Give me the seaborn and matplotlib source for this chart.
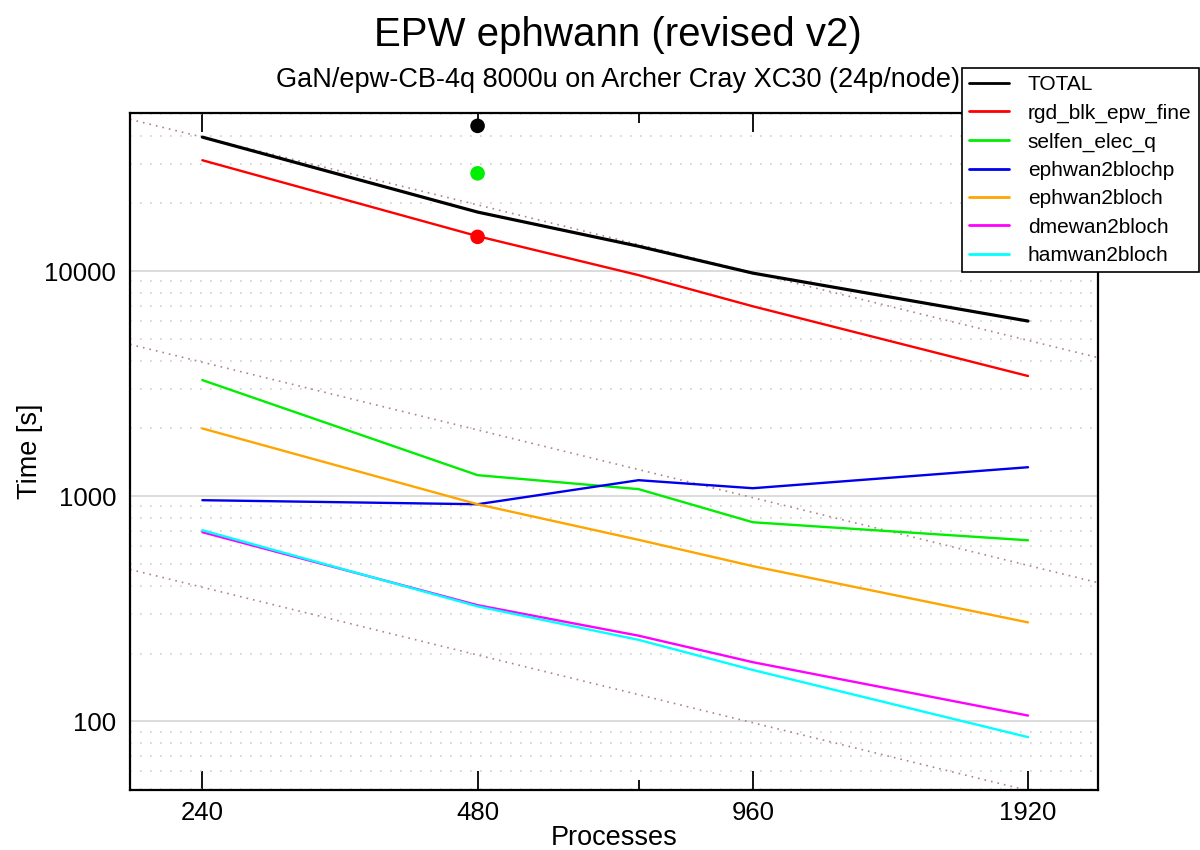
import pandas as pd
import matplotlib
matplotlib.use('Agg')
import matplotlib.pyplot as plt
import seaborn as sns
from matplotlib.ticker import FixedLocator, NullFormatter, LogLocator

#Data
procs = [240, 480, 720, 960, 1920]
total = [39400, 18300, 12900, 9800, 6000]
rgd_blk_epw_fine = [31100, 14300, 9600, 6980, 3420]
selfen_elec_q = [3280, 1240, 1075, 766, 637]
ephwan2blochp = [960, 921, 1178, 1085, 1345]
ephwan2bloch = [2000, 921, 640, 489, 275]
dmewan2bloch = [692, 328, 240, 183, 106]
hamwan2bloch = [706, 324, 230, 169, 85]

#Single extra points at 480 processes
dot_procs = [480, 480, 480]
dot_times = [44200, 27200, 14200]
dot_colours = ['black', '#00ee00', 'red']

series = {
    'TOTAL': total,
    'rgd_blk_epw_fine': rgd_blk_epw_fine,
    'selfen_elec_q': selfen_elec_q,
    'ephwan2blochp': ephwan2blochp,
    'ephwan2bloch': ephwan2bloch,
    'dmewan2bloch': dmewan2bloch,
    'hamwan2bloch': hamwan2bloch,
}
colours = ['black', 'red', '#00ee00', '#0000ee', 'orange', '#ff00ff', '#00ffff']

sns.set_style('white')
plt.rcParams['font.family'] = ['Liberation Sans', 'DejaVu Sans']
plt.rcParams['text.color'] = 'black'
plt.rcParams['axes.labelcolor'] = 'black'
plt.rcParams['xtick.color'] = 'black'
plt.rcParams['ytick.color'] = 'black'

fig = plt.figure(figsize=(12, 8.5), dpi=100)
ax = fig.add_axes([0.1083, 0.0706, 0.8067, 0.7964])
ax.set_xscale('log')
ax.set_yscale('log')
ax.set_xlim(200, 2290)
ax.set_ylim(49.5, 50400)

#Ideal scaling reference lines (slope -1), a decade apart
xs = [200, 2290]
for f in [1, 0.1, 0.01]:
    ys = [total[0] * procs[0] / x * f for x in xs]
    ax.plot(xs, ys, linestyle=(0, (1, 3)), color='#b08585', linewidth=1.2, zorder=1)

#Long-form table for seaborn
rows = []
for name, vals in series.items():
    for p, v in zip(procs, vals):
        rows.append({'Processes': p, 'Time': v, 'Routine': name})
df = pd.DataFrame(rows)

sns.lineplot(data=df, x='Processes', y='Time', hue='Routine',
             palette=dict(zip(series.keys(), colours)), ax=ax, linewidth=1.7,
             legend=False, zorder=3)
# TOTAL drawn a bit heavier
ax.lines[3].set_linewidth(2.3)

sns.scatterplot(x=dot_procs, y=dot_times, hue=[0, 1, 2], palette=dot_colours,
                s=110, ax=ax, legend=False, linewidth=0, zorder=4)

#Grid: solid major, dotted minor on y only
ax.yaxis.set_major_locator(FixedLocator([100, 1000, 10000]))
ax.yaxis.set_minor_locator(LogLocator(base=10, subs=range(2, 10)))
ax.yaxis.set_minor_formatter(NullFormatter())
ax.set_yticklabels(['100', '1000', '10000'])
ax.grid(False)
ax.yaxis.grid(True, which='major', color='#d9d9d9', linewidth=1.3)
ax.yaxis.grid(True, which='minor', color='#d0d0d0', linestyle=(0, (1, 5)), linewidth=1.2)

ax.xaxis.set_major_locator(FixedLocator([240, 480, 960, 1920]))
ax.xaxis.set_minor_locator(FixedLocator([720]))
ax.xaxis.set_minor_formatter(NullFormatter())
ax.set_xticklabels(['240', '480', '960', '1920'])
ax.tick_params(axis='x', which='major', direction='in', length=14, width=1.3,
               top=True, bottom=True, labelsize=18.5, pad=8)
ax.tick_params(axis='x', which='minor', direction='in', length=7, width=1.3,
               top=True, bottom=True)
ax.tick_params(axis='y', which='both', length=0, labelsize=18.5, pad=10)

for s in ax.spines.values():
    s.set_visible(True)
    s.set_color('black')
    s.set_linewidth(1.6)

ax.set_xlabel('Processes', fontsize=19.5, labelpad=0)
ax.set_ylabel('Time [s]', fontsize=19.5, labelpad=1)

fig.text(0.515, 0.959, 'EPW ephwann (revised v2)', ha='center', va='center', fontsize=29)
fig.text(0.515, 0.906, 'GaN/epw-CB-4q 8000u on Archer Cray XC30 (24p/node)',
         ha='center', va='center', fontsize=19.5)

#Legend partly outside the axes, top right
handles = [plt.Line2D([], [], color=c, linewidth=2) for c in colours]
leg = fig.legend(handles, list(series.keys()), loc='upper left',
                 bbox_to_anchor=(0.8017, 0.92), fontsize=15, frameon=True,
                 fancybox=False, framealpha=1, edgecolor='black',
                 handlelength=1.9, handletextpad=0.9, labelspacing=0.45,
                 borderpad=0.35, borderaxespad=0)
leg.get_frame().set_linewidth(1.2)
leg.set_zorder(10)

fig.savefig('out.png', dpi=100)
